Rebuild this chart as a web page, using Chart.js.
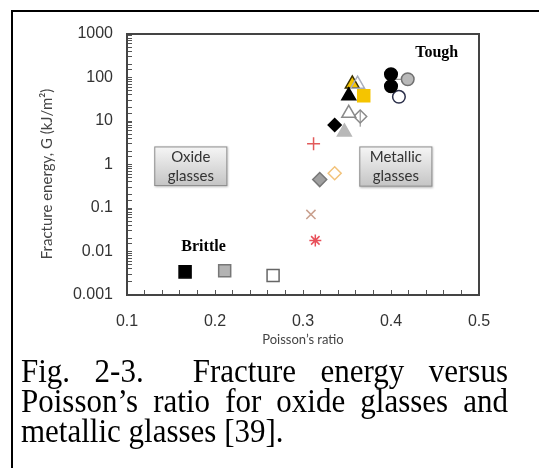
<!DOCTYPE html>
<html>
<head>
<meta charset="utf-8">
<script src="https://cdn.jsdelivr.net/npm/chart.js@4.4.0/dist/chart.umd.min.js"></script>
<style>
  html, body { margin: 0; padding: 0; background: #fff; }
  body { width: 539px; height: 468px; position: relative; overflow: hidden; }
  #frame { position: absolute; left: 11px; top: 10px; width: 600px; height: 500px;
           border-left: 2px solid #000; border-top: 2px solid #000; }
  #wrap { position: absolute; left: 0; top: 0; width: 539px; height: 355px; }
  #caption { position: absolute; left: 21px; top: 355px; width: 487px;
             font-family: 'Liberation Serif', 'Times New Roman', serif; font-size: 31px;
             line-height: 27px; color: #000;
             transform: scaleY(1.12); transform-origin: 0 0; }
  #caption div { text-align: justify; text-align-last: justify; white-space: nowrap; }
  #caption div.last { text-align-last: left; }
</style>
</head>
<body>
<div id="frame"></div>
<div id="wrap"><canvas id="chart"></canvas></div>
<div id="caption">
  <div>Fig. 2-3.&nbsp; Fracture energy versus</div>
  <div>Poisson’s ratio for oxide glasses and</div>
  <div class="last">metallic glasses [39].</div>
</div>
<script>
// one entry per marker set
const seriesNames = [
  'oxide A', 'oxide B', 'oxide C', 'glass D', 'glass E', 'glass F', 'glass G',
  'glass H', 'BMG I', 'BMG J', 'BMG K', 'BMG L', 'BMG M', 'BMG N', 'BMG O',
  'BMG P', 'BMG Q', 'BMG R', 'BMG S'
];
const poissonRatio = [
  [0.166], [0.211], [0.266], [0.314], [0.309], [0.319], [0.336],
  [0.312], [0.336], [0.347], [0.352], [0.365], [0.352], [0.369], [0.362],
  [0.356], [0.400, 0.400], [0.419], [0.409]
];
const fractureEnergy = [
  [0.0034], [0.0036], [0.0028], [0.018], [0.071], [0.45], [0.63],
  [3.0], [8.1], [5.6], [15], [12.7], [38], [38], [70],
  [71], [119, 63], [91], [36]
];
// error bars: [x1, y1, x2, y2]
const errorBars = [
  [0.365, 7.4, 0.365, 18],
  [0.404, 91, 0.419, 91]
];
const yTickLabels = ['0.001', '0.01', '0.1', '1', '10', '100', '1000'];
const xTickLabels = ['0.1', '0.2', '0.3', '0.4', '0.5'];

// marker styles, same order as the series
const markerShape = [
  'rect', 'rect', 'rect', 'star', 'crossRot', 'rectRot', 'rectRot',
  'cross', 'rectRot', 'triangle', 'triangle', 'rectRot', 'triangle', 'rect', 'triangle',
  'triangle', 'circle', 'circle', 'circle'
];
const markerSize = [8.5, 8.5, 8.5, 6, 6.5, 7, 6.5, 6.5, 6.5, 8, 8, 6.5, 8, 8.5, 8, 8, 6.3, 6.3, 6.3];
const markerFill = [
  '#000', '#b3b3b3', '#fff', 'transparent', 'transparent', '#a0a0a0', '#fff',
  'transparent', '#000', '#b8b8b8', '#fff', 'rgba(255,255,255,0)', '#000', '#f5c400', 'rgba(255,255,255,0)',
  '#f4c300', '#000', '#b9b9b9', '#fff'
];
const markerLine = [
  '#000', '#777', '#666', '#e8505a', '#c9a08e', '#777', '#f2c27a',
  '#e25a5a', '#000', '#b8b8b8', '#8a8a8a', '#8a8a8a', '#000', '#f5c400', '#a9aebb',
  '#3a3000', '#000', '#707070', '#2b2f4a'
];

const datasets = seriesNames.map((name, i) => ({
  label: name,
  data: poissonRatio[i].map((x, j) => ({ x: x, y: fractureEnergy[i][j] })),
  pointStyle: markerShape[i],
  pointRadius: markerSize[i],
  pointBackgroundColor: markerFill[i],
  pointBorderColor: markerLine[i],
  pointBorderWidth: 1.5,
  showLine: false
}));

errorBars.forEach((b, i) => {
  datasets.push({
    label: 'error ' + i,
    data: [{ x: b[0], y: b[1] }, { x: b[2], y: b[3] }],
    showLine: true,
    borderColor: '#808080',
    borderWidth: 1,
    pointRadius: 0,
    order: 5
  });
});

const frameAndNotes = {
  id: 'frameAndNotes',
  afterDraw(chart) {
    const ctx = chart.ctx;
    const a = chart.chartArea;
    const xs = chart.scales.x, ys = chart.scales.y;
    ctx.save();
    ctx.strokeStyle = '#444';
    ctx.lineWidth = 2;
    ctx.strokeRect(a.left, a.top, a.right - a.left, a.bottom - a.top);

    function box(x1, x2, y1, y2, lines) {
      const l = xs.getPixelForValue(x1), r = xs.getPixelForValue(x2);
      const t = ys.getPixelForValue(y1), b = ys.getPixelForValue(y2);
      ctx.save();
      ctx.shadowColor = 'rgba(0,0,0,0.25)';
      ctx.shadowOffsetX = 1; ctx.shadowOffsetY = 1; ctx.shadowBlur = 2;
      const g = ctx.createLinearGradient(0, t, 0, b);
      g.addColorStop(0, '#f6f6f6');
      g.addColorStop(1, '#c4c4c4');
      ctx.fillStyle = g;
      ctx.fillRect(l, t, r - l, b - t);
      ctx.restore();
      ctx.strokeStyle = '#8e8e8e';
      ctx.lineWidth = 1;
      ctx.strokeRect(l + 0.5, t + 0.5, r - l - 1, b - t - 1);
      ctx.fillStyle = '#333';
      ctx.font = '15px Lato';
      ctx.textAlign = 'center';
      ctx.textBaseline = 'middle';
      const cx = (l + r) / 2, cy = (t + b) / 2;
      ctx.fillText(lines[0], cx, cy - 9);
      ctx.fillText(lines[1], cx, cy + 10);
    }
    box(0.131, 0.214, 2.6, 0.32, ['Oxide', 'glasses']);
    box(0.364, 0.447, 2.6, 0.31, ['Metallic', 'glasses']);

    ctx.fillStyle = '#000';
    ctx.font = 'bold 16px "Liberation Serif"';
    ctx.textAlign = 'center';
    ctx.textBaseline = 'middle';
    ctx.fillText('Tough', xs.getPixelForValue(0.452), ys.getPixelForValue(360));
    ctx.fillText('Brittle', xs.getPixelForValue(0.187), ys.getPixelForValue(0.0128));

    ctx.translate(47, 174);
    ctx.rotate(-Math.PI / 2);
    ctx.fillStyle = '#444';
    ctx.font = '15px Lato';
    ctx.fillText('Fracture energy, G (kJ/m²)', 0, 0);
    ctx.restore();
  }
};

new Chart(document.getElementById('chart'), {
  type: 'scatter',
  data: { datasets: datasets },
  plugins: [frameAndNotes],
  options: {
    responsive: true,
    maintainAspectRatio: false,
    animation: false,
    layout: { padding: { left: 0, right: 60, top: 34, bottom: 0 } },
    plugins: { legend: { display: false }, tooltip: { enabled: false } },
    scales: {
      x: {
        type: 'linear',
        min: 0.1,
        max: 0.5,
        afterFit: s => { s.height = 60; },
        ticks: {
          stepSize: 0.02,
          autoSkip: false,
          maxRotation: 0,
          padding: 22,
          color: '#333',
          font: { family: 'Liberation Sans', size: 16 },
          callback: v => {
            const k = Math.round(v * 10);
            return Math.abs(v * 10 - k) < 1e-6 ? xTickLabels[k - 1] : '';
          }
        },
        grid: { drawOnChartArea: false, drawTicks: true, tickLength: -5, color: '#555' },
        border: { display: true, color: '#333', width: 2 },
        title: {
          display: true,
          text: 'Poisson’s ratio',
          color: '#444',
          font: { family: 'Lato', size: 13 },
          padding: { top: 0, bottom: 7 }
        }
      },
      y: {
        type: 'logarithmic',
        min: 0.001,
        max: 1000,
        afterFit: s => { s.width = 127; },
        ticks: {
          autoSkip: false,
          padding: 19,
          color: '#333',
          font: { family: 'Liberation Sans', size: 16 },
          callback: v => {
            const e = Math.log10(v);
            const k = Math.round(e);
            return Math.abs(e - k) < 1e-6 ? yTickLabels[k + 3] : '';
          }
        },
        grid: { drawOnChartArea: false, drawTicks: true, tickLength: -5, color: '#555' },
        border: { display: true, color: '#333', width: 2 }
      }
    }
  }
});
</script>
</body>
</html>
